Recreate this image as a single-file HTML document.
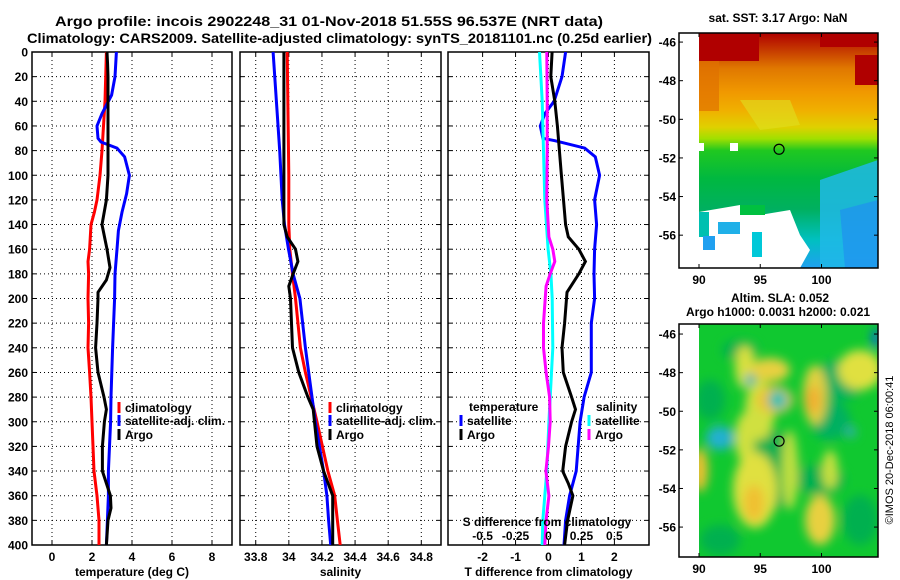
<!DOCTYPE html>
<html><head><meta charset="utf-8"><style>
html,body{margin:0;padding:0;background:#fff;}
svg{display:block;font-family:"Liberation Sans",Arial,sans-serif;font-weight:bold;}
</style></head><body>
<svg id="fig" width="900" height="580" viewBox="0 0 900 580" xmlns="http://www.w3.org/2000/svg">
<defs>
<filter id="blur4" x="-20%" y="-20%" width="140%" height="140%"><feGaussianBlur stdDeviation="5"/></filter>
<clipPath id="clipT"><rect x="32" y="52" width="200" height="493"/></clipPath>
<clipPath id="clipS"><rect x="240" y="52" width="201" height="493"/></clipPath>
<clipPath id="clipD"><rect x="448" y="52" width="201" height="493"/></clipPath>
<clipPath id="clipM1"><rect x="699" y="33" width="179" height="235"/></clipPath>
<clipPath id="clipM2"><rect x="699" y="324" width="179" height="233"/></clipPath>
<linearGradient id="sstGrad" x1="0" y1="0" x2="0" y2="1">
<stop offset="0" stop-color="#b00000"/><stop offset="0.08" stop-color="#c84000"/>
<stop offset="0.15" stop-color="#e07800"/><stop offset="0.25" stop-color="#f09800"/>
<stop offset="0.33" stop-color="#f0b000"/><stop offset="0.40" stop-color="#e0d000"/>
<stop offset="0.45" stop-color="#a0e000"/><stop offset="0.50" stop-color="#20c820"/>
<stop offset="0.62" stop-color="#00b840"/><stop offset="0.75" stop-color="#00b060"/>
<stop offset="0.88" stop-color="#00c0c0"/><stop offset="1" stop-color="#20a0f0"/>
</linearGradient>
</defs>
<text x="55" y="26" font-size="14" textLength="548" lengthAdjust="spacingAndGlyphs">Argo profile: incois 2902248_31 01-Nov-2018 51.55S 96.537E (NRT data)</text>
<text x="27" y="43" font-size="14" textLength="625" lengthAdjust="spacingAndGlyphs">Climatology: CARS2009. Satellite-adjusted climatology: synTS_20181101.nc (0.25d earlier)</text>
<g id="panels"></g>
<g id="maps"></g>
</svg>
<script>
// ---- data (depth in dbar) ----
const tClimD=[0,40,80,100,120,130,140,160,170,180,200,220,240,260,280,300,320,340,360,380,400];
const tClimV=[2.72,2.65,2.5,2.4,2.25,2.12,1.95,1.88,1.8,1.83,1.8,1.83,1.8,1.88,1.95,2.0,2.05,2.1,2.25,2.35,2.35];
const tArgoD=[0,10,20,60,100,120,140,160,175,185,195,200,220,240,260,280,290,300,320,340,350,360,370,380,400];
const tArgoV=[2.75,2.78,2.8,2.8,2.8,2.72,2.5,2.75,2.9,2.72,2.3,2.3,2.25,2.18,2.3,2.6,2.72,2.62,2.52,2.52,2.72,2.92,2.95,2.8,2.72];
const tSatD=[0,20,35,50,60,70,73,78,85,100,115,130,145,160,180,200,240,280,300,340,360,400];
const tSatV=[3.22,3.15,2.98,2.5,2.25,2.3,2.45,3.25,3.63,3.87,3.73,3.5,3.32,3.25,3.15,3.13,3.03,2.95,2.93,2.82,2.82,2.72];
const sClimD=[0,100,140,160,180,200,240,260,280,300,340,360,380,400];
const sClimV=[33.99,34.0,34.0,34.006,34.022,34.04,34.07,34.1,34.135,34.17,34.236,34.277,34.293,34.31];
const sArgoD=[0,140,150,160,170,180,190,200,240,260,280,290,320,340,360,400];
const sArgoV=[33.97,33.97,33.99,34.04,34.055,34.026,34.0,34.01,34.022,34.06,34.115,34.147,34.17,34.21,34.265,34.265];
const sSatD=[0,40,80,120,140,160,180,200,240,280,300,340,360,380,400];
const sSatV=[33.905,33.925,33.945,33.96,33.974,33.998,34.026,34.067,34.1,34.14,34.16,34.21,34.23,34.24,34.253];
const dTSatD=[0,20,40,50,60,70,72,78,85,100,120,140,160,180,200,220,260,280,300,340,360,380,400];
const dTSatV=[0.52,0.41,0.17,-0.11,-0.25,-0.17,0.19,1.1,1.42,1.55,1.4,1.46,1.4,1.38,1.4,1.3,1.3,1.08,0.96,0.84,0.64,0.52,0.47];
const dTArgoD=[0,20,40,60,80,100,140,150,160,170,180,195,220,240,260,280,290,300,320,340,350,360,380,400];
const dTArgoV=[0.11,0.07,0.19,0.27,0.33,0.39,0.52,0.6,0.92,1.12,0.92,0.56,0.49,0.41,0.45,0.7,0.82,0.7,0.52,0.43,0.6,0.74,0.58,0.49];
const dSSatD=[0,40,80,120,160,180,200,240,280,300,340,380,400];
const dSSatV=[-0.068,-0.048,-0.038,-0.028,-0.003,0.018,0.028,0.033,0.013,0.003,-0.013,-0.043,-0.048];
const dSArgoD=[0,40,80,120,150,160,170,180,190,220,240,260,280,300,320,340,360,380,400];
const dSArgoV=[-0.013,-0.01,-0.01,-0.013,0.003,0.033,0.048,0.013,-0.018,-0.038,-0.038,-0.018,0.008,0.013,0,-0.02,0.003,-0.018,-0.028];
const depthTicks=[0,20,40,60,80,100,120,140,160,180,200,220,240,260,280,300,320,340,360,380,400];
const tTicks=[0,2,4,6,8];
const sTicks=[33.8,34,34.2,34.4,34.6,34.8];
const sTickLabels=["33.8","34","34.2","34.4","34.6","34.8"];
const dTTicks=[-2,-1,0,1,2];
const dSTicks=[-0.5,-0.25,0,0.25,0.5];
const dSTickLabels=["-0.5","-0.25","0","0.25","0.5"];
const lonTicks=[90,95,100];
const latTicks=[-46,-48,-50,-52,-54,-56];

const NS="http://www.w3.org/2000/svg";
const P=document.getElementById('panels');
const M=document.getElementById('maps');
function mk(tag,attrs,parent,txt){const e=document.createElementNS(NS,tag);for(const k in attrs)e.setAttribute(k,attrs[k]);if(txt!==undefined)e.textContent=txt;parent.appendChild(e);return e;}
const Y0=52,Y1=545;
const yD=d=>Y0+d*(Y1-Y0)/400;
function panel(name,x0,x1,vmin,vmax,ticks,labels,title,clip){
  const g=mk('g',{},P);
  
  
  const xs=v=>x0+(v-vmin)*(x1-x0)/(vmax-vmin);
  depthTicks.forEach(d=>{if(d>0&&d<400){const l=mk('line',{x1:x0,x2:x1,y1:yD(d),y2:yD(d),stroke:'#000','stroke-width':1,'stroke-dasharray':'1,3'},g);}});
  ticks.forEach((v,i)=>{const x=xs(v);const l=mk('line',{x1:x,x2:x,y1:Y0,y2:Y1,stroke:'#000','stroke-width':1,'stroke-dasharray':'1,3'},g);
    mk('line',{x1:x,x2:x,y1:Y1,y2:Y1-4,stroke:'#000'},g);mk('line',{x1:x,x2:x,y1:Y0,y2:Y0+4,stroke:'#000'},g);
    const t=mk('text',{x:x,y:561,'font-size':12,'text-anchor':'middle'},g,labels[i]);});
  depthTicks.forEach(d=>{mk('line',{x1:x0,x2:x0+4,y1:yD(d),y2:yD(d),stroke:'#000'},g);mk('line',{x1:x1,x2:x1-4,y1:yD(d),y2:yD(d),stroke:'#000'},g);});
  const f=mk('rect',{x:x0,y:Y0,width:x1-x0,height:Y1-Y0,fill:'none',stroke:'#000','stroke-width':1.5},g);
  
  const tt=mk('text',{x:(x0+x1)/2,y:576,'font-size':12,'text-anchor':'middle'},g,title);
  
  const lg=mk('g',{'clip-path':'url(#'+clip+')'},g);
  return {g,lg,xs};
}
function line(pn,D,V,color,name,scale){
  const s=scale||1;
  const pts=D.map((d,i)=>pn.xs(V[i]*s).toFixed(1)+','+yD(d).toFixed(1)).join(' ');
  const pl=mk('polyline',{points:pts,fill:'none',stroke:color,'stroke-width':3,'stroke-linejoin':'miter'},pn.lg);
  
  
}
function leg(g,x,y,color,label,name){
  mk('rect',{x:x-1.5,y:y-9,width:3,height:11,fill:color},g);
  const t=mk('text',{x:x+6,y:y+1,'font-size':12},g,label);
  
  
}
depthTicks.forEach(d=>{const t=mk('text',{x:28,y:yD(d)+4.5,'font-size':12,'text-anchor':'end'},P,String(d));});

const pT=panel('temperature',32,232,-1,9,tTicks,tTicks.map(String),'temperature (deg C)','clipT');
line(pT,tClimD,tClimV,'#ff0000','temp-climatology-line');
line(pT,tSatD,tSatV,'#0000ff','temp-satellite-line');
line(pT,tArgoD,tArgoV,'#000000','temp-argo-line');
leg(pT.g,119,411,'#ff0000','climatology','legend-climatology');
leg(pT.g,119,424,'#0000ff','satellite-adj. clim.','legend-satellite');
leg(pT.g,119,438,'#000000','Argo','legend-argo');

const pS=panel('salinity',240,441,33.705,34.919,sTicks,sTickLabels,'salinity','clipS');
line(pS,sClimD,sClimV,'#ff0000','sal-climatology-line');
line(pS,sSatD,sSatV,'#0000ff','sal-satellite-line');
line(pS,sArgoD,sArgoV,'#000000','sal-argo-line');
leg(pS.g,330,411,'#ff0000','climatology','legend-climatology');
leg(pS.g,330,424,'#0000ff','satellite-adj. clim.','legend-satellite');
leg(pS.g,330,438,'#000000','Argo','legend-argo');

const pD=panel('difference',448,649,-3.05,3.05,dTTicks,dTTicks.map(String),'T difference from climatology','clipD');
line(pD,dTSatD,dTSatV,'#0000ff','dT-satellite-line');
line(pD,dTArgoD,dTArgoV,'#000000','dT-argo-line');
line(pD,dSSatD,dSSatV,'#00ffff','dS-satellite-line',4);
line(pD,dSArgoD,dSArgoV,'#ff00ff','dS-argo-line',4);
{const t=mk('text',{x:469,y:411,'font-size':12},pD.g,'temperature');}
leg(pD.g,461,424,'#0000ff','satellite','legend-t-satellite');
leg(pD.g,461,438,'#000000','Argo','legend-t-argo');
{const t=mk('text',{x:596,y:411,'font-size':12},pD.g,'salinity');}
leg(pD.g,589,424,'#00ffff','satellite','legend-s-satellite');
leg(pD.g,589,438,'#ff00ff','Argo','legend-s-argo');
{const t=mk('text',{x:547,y:526,'font-size':12,'text-anchor':'middle'},pD.g,'S difference from climatology');}
dSTicks.forEach((v,i)=>{const t=mk('text',{x:pD.xs(v*4),y:540,'font-size':12,'text-anchor':'middle'},pD.g,dSTickLabels[i]);});

// ---- maps ----
function mapFrame(name,top,bot,latTop,latBot){
  const g=mk('g',{},M);
  
  
  const lonX=l=>699+(l-90)*12.25;
  const latY=l=>top+(latTop-l)*(bot-top)/(latTop-latBot);
  return {g,lonX,latY,top,bot};
}
function finishMap(m){
  const g=m.g;
  mk('rect',{x:679,y:m.top,width:199,height:m.bot-m.top,fill:'none',stroke:'#000','stroke-width':1.5},g);
  lonTicks.forEach(l=>{const x=m.lonX(l);mk('line',{x1:x,x2:x,y1:m.bot,y2:m.bot-4,stroke:'#000'},g);mk('line',{x1:x,x2:x,y1:m.top,y2:m.top+4,stroke:'#000'},g);
    const t=mk('text',{x:x,y:m.bot+16,'font-size':12,'text-anchor':'middle'},g,String(l));});
  latTicks.forEach(l=>{const y=m.latY(l);mk('line',{x1:679,x2:683,y1:y,y2:y,stroke:'#000'},g);mk('line',{x1:878,x2:874,y1:y,y2:y,stroke:'#000'},g);
    const t=mk('text',{x:676,y:y+4.5,'font-size':12,'text-anchor':'end'},g,String(l));});
  const c=mk('circle',{cx:m.lonX(96.537),cy:m.latY(-51.55),r:5,fill:'none',stroke:'#000','stroke-width':1.2},g);
  
}
const m1=mapFrame('sst-map',33,268,-45.53,-57.7);
{const g=mk('g',{'clip-path':'url(#clipM1)'},m1.g);
 mk('rect',{x:699,y:33,width:179,height:235,fill:'url(#sstGrad)'},g);
 mk('rect',{x:699,y:33,width:60,height:28,fill:'#b00000'},g);
 mk('rect',{x:820,y:33,width:58,height:14,fill:'#b00000'},g);
 mk('rect',{x:855,y:55,width:23,height:30,fill:'#b00000'},g);
 mk('rect',{x:699,y:61,width:20,height:50,fill:'#e07000',opacity:0.7},g);
 mk('path',{d:'M 820 180 L 878 160 L 878 268 L 820 268 Z',fill:'#20b8e8',opacity:0.85},g);
 mk('path',{d:'M 840 210 L 878 200 L 878 268 L 845 268 Z',fill:'#2090f0',opacity:0.7},g);
 mk('path',{d:'M 740 100 L 790 100 L 800 125 L 760 130 Z',fill:'#e0e020',opacity:0.6},g);
 mk('path',{d:'M 699 212 L 740 205 L 760 215 L 790 210 L 800 235 L 810 250 L 800 268 L 699 268 Z',fill:'#fff'},g);
 mk('rect',{x:699,y:212,width:10,height:25,fill:'#00c0b0'},g);
 mk('rect',{x:703,y:236,width:12,height:14,fill:'#20a0f0'},g);
 mk('rect',{x:718,y:222,width:22,height:12,fill:'#20b0e8'},g);
 mk('rect',{x:752,y:232,width:10,height:25,fill:'#00c8d8'},g);
 mk('rect',{x:740,y:205,width:25,height:10,fill:'#00c040'},g);
 mk('rect',{x:699,y:143,width:5,height:8,fill:'#fff'},g);
 mk('rect',{x:730,y:143,width:8,height:8,fill:'#fff'},g);
}
finishMap(m1);
{const t=mk('text',{x:778,y:22,'font-size':12,'text-anchor':'middle'},m1.g,'sat. SST: 3.17 Argo: NaN');}
const m2=mapFrame('sla-map',324,557,-45.48,-57.55);
{const g=mk('g',{'clip-path':'url(#clipM2)'},m2.g);
 mk('rect',{x:699,y:324,width:179,height:233,fill:'#10c830'},g);
 const b=mk('g',{filter:'url(#blur4)'},g);
 [[740,350,18,10,'#00b050'],[840,380,25,20,'#00b060'],[770,470,30,40,'#00b050'],[820,480,25,15,'#00b050'],[720,540,20,15,'#00b050'],[830,420,20,20,'#00b060'],[710,400,15,20,'#00b050'],[860,520,18,25,'#00b050']].forEach(e=>mk('ellipse',{cx:e[0],cy:e[1],rx:e[2],ry:e[3],fill:e[4]},b));
 [[745,367,10,22,'#d8e040'],[770,370,20,12,'#e8d040'],[815,395,12,30,'#e0d040'],[813,400,8,14,'#f0b030'],[760,410,15,30,'#d0e040'],[745,438,10,25,'#d0e040'],[755,490,22,38,'#e0e040'],[754,503,10,18,'#f0c030'],[700,470,8,22,'#f0c030'],[820,520,15,25,'#e8d040'],[860,370,22,20,'#e0e040'],[790,470,8,40,'#c0e040'],[775,400,18,14,'#f0c030'],[830,470,8,20,'#c8e040']].forEach(e=>mk('ellipse',{cx:e[0],cy:e[1],rx:e[2],ry:e[3],fill:e[4]},b));
 [[720,438,14,12,'#20b0d0'],[778,400,10,10,'#30c0b0'],[750,380,5,6,'#30b0c0'],[876,338,4,10,'#1060e0'],[851,432,5,6,'#30b0b0']].forEach(e=>mk('ellipse',{cx:e[0],cy:e[1],rx:e[2],ry:e[3],fill:e[4]},b));
}
finishMap(m2);
{const t=mk('text',{x:780,y:302,'font-size':12,'text-anchor':'middle'},m2.g,'Altim. SLA: 0.052');}
{const t=mk('text',{x:778,y:316,'font-size':12,'text-anchor':'middle'},m2.g,'Argo h1000: 0.0031 h2000: 0.021');}
{const t=mk('text',{x:0,y:0,'font-size':11,'font-weight':'normal','text-anchor':'middle',transform:'translate(893,450) rotate(-90)'},M,'©IMOS 20-Dec-2018 06:00:41');}
</script>
</body></html>
